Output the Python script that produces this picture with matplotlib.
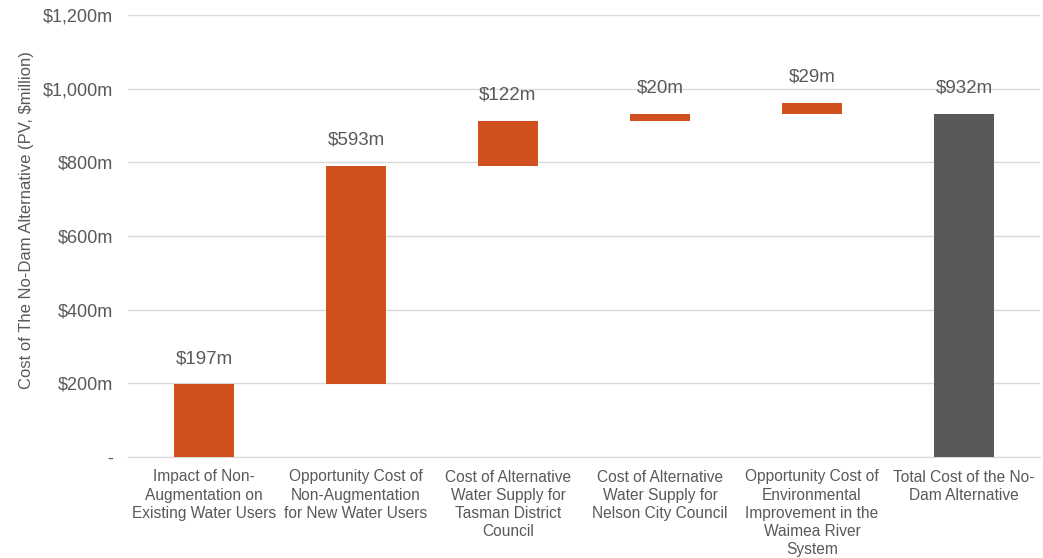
import matplotlib
matplotlib.use("Agg")
import matplotlib.pyplot as plt

categories = [
    "Impact of Non-\nAugmentation on\nExisting Water Users",
    "Opportunity Cost of\nNon-Augmentation\nfor New Water Users",
    "Cost of Alternative\nWater Supply for\nTasman District\nCouncil",
    "Cost of Alternative\nWater Supply for\nNelson City Council",
    "Opportunity Cost of\nEnvironmental\nImprovement in the\nWaimea River\nSystem",
    "Total Cost of the No-\nDam Alternative",
]
bottoms = [0, 197, 790, 912, 932, 0]
heights = [197, 593, 122, 20, 29, 932]
labels = ["$197m", "$593m", "$122m", "$20m", "$29m", "$932m"]
yticks = [0, 200, 400, 600, 800, 1000, 1200]
yticklabels = ["-", "$200m", "$400m", "$600m", "$800m", "$1,000m", "$1,200m"]

plt.rcParams['font.family'] = ['Liberation Sans', 'DejaVu Sans']
txt = "#595959"
colors = ["#D0501F"] * 5 + ["#595959"]

fig = plt.figure(figsize=(10.43, 5.58), dpi=100)
ax = fig.add_axes([128/1043, 1 - 457/558, 912/1043, (457-15)/558])
x = range(len(categories))
ax.bar(x, heights, bottom=bottoms, width=0.4, color=colors, zorder=3)
for i, (b, h, l) in enumerate(zip(bottoms, heights, labels)):
    ax.text(i, b + h + 70, l, ha="center", va="center", fontsize=13.5, color=txt)

ax.set_xlim(-0.5, len(categories) - 0.5)
ax.set_ylim(0, 1200)
ax.set_yticks(yticks)
ax.set_yticklabels(yticklabels, fontsize=13, color=txt)
ax.set_xticks(list(x))
ax.set_xticklabels(categories, fontsize=11.2, color=txt, linespacing=1.27, va="top")
ax.tick_params(axis="both", length=0)
ax.tick_params(axis="y", pad=11)
ax.tick_params(axis="x", pad=9)
ax.grid(axis="y", color="#D9D9D9", linewidth=1, zorder=0)
for s in ["top", "right", "left"]:
    ax.spines[s].set_visible(False)
ax.spines["bottom"].set_color("#D9D9D9")
ax.set_ylabel("Cost of The No-Dam Alternative (PV, $million)", fontsize=12, color=txt)
ax.yaxis.set_label_coords((34 - 128) / 912, (457 - 220) / 442)

fig.savefig("out.png", dpi=100)
